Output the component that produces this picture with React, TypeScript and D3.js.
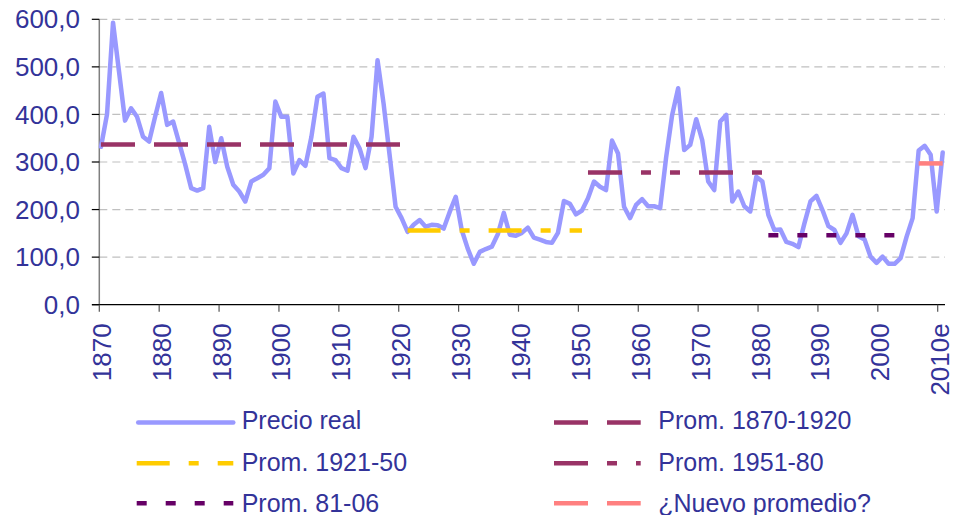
import React from "react";
import * as d3 from "d3";

const startYear = 1870;
const precioReal: number[] = [
  332, 400, 593, 490, 387, 413, 395, 353, 343, 395, // 1870-1879
  445, 378, 385, 340, 295, 245, 240, 245, 374, 300, // 1880-1889
  350, 290, 252, 238, 217, 259, 266, 273, 287, 427, // 1890-1899
  395, 395, 276, 304, 292, 353, 437, 444, 308, 304, // 1900-1909
  287, 282, 353, 329, 287, 353, 514, 423, 315, 206, // 1910-1919
  182, 153, 168, 178, 164, 168, 167, 160, 195, 227, // 1920-1929
  157, 118, 86, 111, 117, 122, 148, 193, 147, 145, // 1930-1939
  151, 162, 141, 137, 132, 130, 151, 218, 212, 190, // 1940-1949
  198, 224, 259, 248, 241, 345, 318, 206, 182, 210, // 1950-1959
  222, 207, 207, 203, 310, 399, 455, 325, 336, 390, // 1960-1969
  346, 259, 241, 385, 399, 217, 238, 207, 196, 269, // 1970-1979
  259, 189, 157, 158, 132, 128, 121, 171, 217, 229, // 1980-1989
  199, 165, 157, 130, 150, 189, 144, 137, 101, 88, // 1990-1999
  101, 86, 86, 98, 143, 182, 324, 334, 315, 196, // 2000-2009
  320, // 2010
];

const avgNames = ["Prom. 1870-1920", "Prom. 1921-50", "Prom. 1951-80", "Prom. 81-06", "¿Nuevo promedio?"];
const avgStart = [1870, 1921, 1951, 1981, 2006];
const avgEnd = [1920, 1950, 1980, 2005, 2010];
const avgValue = [337, 156, 278, 146, 297];
const avgColors = ["#993366", "#FFCC00", "#993366", "#660066", "#FF8080"];
const avgDash = ["34 19", "33 19 10 19", "34 19 10 19 10 19", "10 19", "34 19"];

const xTickYears = [1870, 1880, 1890, 1900, 1910, 1920, 1930, 1940, 1950, 1960, 1970, 1980, 1990, 2000, 2010];
const xTickLabels = ["1870", "1880", "1890", "1900", "1910", "1920", "1930", "1940", "1950", "1960", "1970", "1980", "1990", "2000", "2010e"];
const yTicks = [0, 100, 200, 300, 400, 500, 600];

const W = 962;
const H = 515;
const textColor = "#333399";
const font = "'Liberation Sans', Arial, sans-serif";

export default function App() {
  const years = precioReal.map((_, i) => startYear + i);
  const x = d3.scaleLinear().domain([1870, 2010]).range([101, 942.7]);
  const xTick = d3.scaleLinear().domain([1870, 2010]).range([99.3, 937.7]);
  const y = d3.scaleLinear().domain([0, 600]).range([304.7, 19.3]);
  const line = d3
    .line<number>()
    .x((_, i) => x(years[i]))
    .y((d) => y(d));
  const fmt = (v: number) => d3.format(".1f")(v).replace(".", ",");

  const axisX0 = 99.3;
  const axisRight = 945;

  // legend layout
  const legendRows = [
    { col: 0, row: 0, name: "Precio real", color: "#9999FF", dash: "", main: true },
    { col: 1, row: 0, name: avgNames[0], color: avgColors[0], dash: avgDash[0] },
    { col: 0, row: 1, name: avgNames[1], color: avgColors[1], dash: avgDash[1] },
    { col: 1, row: 1, name: avgNames[2], color: avgColors[2], dash: avgDash[2] },
    { col: 0, row: 2, name: avgNames[3], color: avgColors[3], dash: avgDash[3] },
    { col: 1, row: 2, name: avgNames[4], color: avgColors[4], dash: avgDash[4] },
  ];
  const colSample = [
    [136.7, 233.3],
    [554, 640.7],
  ];
  const colText = [241.7, 658.3];
  const rowLineY = [422.5, 463.3, 503.3];
  const rowTextY = [428.5, 470.5, 511.5];

  return (
    <div style={{ position: "absolute", left: 0, top: 0 }}>
      <svg width={W} height={H} style={{ display: "block", background: "#fff" }} fontFamily={font}>
        {/* gridlines */}
        {yTicks
          .filter((t) => t > 0)
          .map((t) => (
            <line
              key={"g" + t}
              x1={axisX0}
              x2={axisRight}
              y1={y(t)}
              y2={y(t)}
              stroke="#C0C0C0"
              strokeWidth={1.2}
              strokeDasharray="8 5"
            />
          ))}
        {/* y axis */}
        <line x1={axisX0} x2={axisX0} y1={y(600)} y2={y(0)} stroke="#7f7f7f" strokeWidth={1.5} />
        {yTicks.map((t) => (
          <g key={"yt" + t}>
            <line x1={axisX0 - 7.5} x2={axisX0} y1={y(t)} y2={y(t)} stroke="#000" strokeWidth={1.2} />
            <text
              x={80}
              y={y(t)}
              dy="0.35em"
              textAnchor="end"
              fontSize={26}
              fill={textColor}
            >
              {fmt(t)}
            </text>
          </g>
        ))}
        {/* x axis */}
        <line x1={92} x2={axisRight} y1={y(0)} y2={y(0)} stroke="#000" strokeWidth={1.2} />
        {xTickYears.map((yr, i) => (
          <g key={"xt" + yr}>
            <line x1={xTick(yr)} x2={xTick(yr)} y1={y(0)} y2={y(0) + 7} stroke="#555" strokeWidth={1.2} />
            <text
              transform={`translate(${xTick(yr) + 11.5},${323.3}) rotate(-90)`}
              textAnchor="end"
              fontSize={26}
              fill={textColor}
            >
              {xTickLabels[i]}
            </text>
          </g>
        ))}
        {/* main line */}
        <path
          d={line(precioReal) || ""}
          fill="none"
          stroke="#9999FF"
          strokeWidth={4.5}
          strokeLinejoin="round"
          strokeLinecap="round"
        />
        {/* averages */}
        {avgValue.map((v, i) => (
          <line
            key={"avg" + i}
            x1={x(avgStart[i])}
            x2={x(avgEnd[i])}
            y1={y(v)}
            y2={y(v)}
            stroke={avgColors[i]}
            strokeWidth={4.5}
            strokeDasharray={avgDash[i]}
          />
        ))}
        {/* legend */}
        {legendRows.map((r, i) => (
          <g key={"lg" + i}>
            <line
              x1={colSample[r.col][0] + (r.main ? 1.5 : 0)}
              x2={colSample[r.col][1] + (r.main ? 0 : 0)}
              y1={rowLineY[r.row]}
              y2={rowLineY[r.row]}
              stroke={r.color}
              strokeWidth={4.5}
              strokeDasharray={r.dash || undefined}
              strokeLinecap={r.main ? "round" : "butt"}
            />
            <text x={colText[r.col]} y={rowTextY[r.row]} fontSize={25} fill={textColor}>
              {r.name}
            </text>
          </g>
        ))}
      </svg>
    </div>
  );
}
